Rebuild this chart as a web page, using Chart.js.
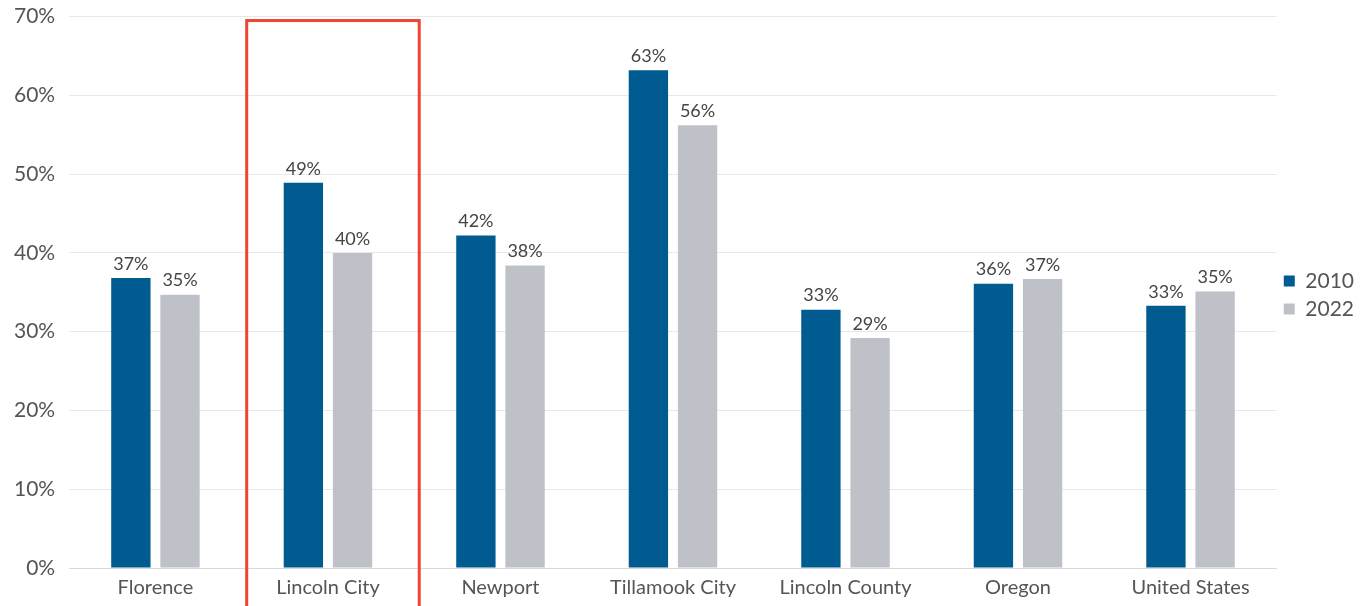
<!DOCTYPE html>
<html>
<head>
<meta charset="utf-8">
<script src="https://cdn.jsdelivr.net/npm/chart.js@4"></script>
<style>
html,body{margin:0;padding:0;background:#fff;overflow:hidden;}
#wrap{width:1360px;height:606px;position:relative;overflow:hidden;}
#c{position:absolute;left:0;top:-10px;}
</style>
</head>
<body>
<div id="wrap"><canvas id="c" width="1364" height="616"></canvas></div>
<script>
const categories = ["Florence", "Lincoln City", "Newport", "Tillamook City", "Lincoln County", "Oregon", "United States"];
const values2010 = [36.8, 48.9, 42.2, 63.2, 32.8, 36.1, 33.3];
const values2022 = [34.7, 40.0, 38.4, 56.2, 29.2, 36.7, 35.1];
const seriesNames = ["2010", "2022"];
const yTicks = [0, 10, 20, 30, 40, 50, 60, 70];
const highlightCategory = "Lincoln City";

const FONT = 'Lato, "Open Sans", sans-serif';

const labelPlugin = {
  id: 'barLabels',
  afterDatasetsDraw(chart) {
    const ctx = chart.ctx;
    ctx.save();
    ctx.font = '18px ' + FONT;
    ctx.fillStyle = '#444';
    ctx.textAlign = 'center';
    ctx.textBaseline = 'bottom';
    chart.data.datasets.forEach((ds, i) => {
      const meta = chart.getDatasetMeta(i);
      meta.data.forEach((bar, j) => {
        ctx.fillText(Math.round(ds.data[j]) + '%', bar.x, bar.y - 5);
      });
    });
    ctx.restore();
  }
};

const highlightPlugin = {
  id: 'highlight',
  afterDraw(chart) {
    const xs = chart.scales.x, ys = chart.scales.y;
    const idx = categories.indexOf(highlightCategory);
    const cx = xs.getPixelForValue(idx);
    const w = (xs.right - xs.left) / categories.length;
    const ctx = chart.ctx;
    ctx.save();
    ctx.strokeStyle = '#ee4530';
    ctx.lineWidth = 3;
    const top = ys.getPixelForValue(69.5);
    ctx.strokeRect(cx - w / 2 + 5, top, w, chart.height - top + 3);
    ctx.restore();
  }
};

new Chart(document.getElementById('c'), {
  type: 'bar',
  data: {
    labels: categories,
    datasets: [
      { label: seriesNames[0], data: values2010, backgroundColor: '#005b91', barPercentage: 0.8, categoryPercentage: 0.57 },
      { label: seriesNames[1], data: values2022, backgroundColor: '#bfc1c8', barPercentage: 0.8, categoryPercentage: 0.57 }
    ]
  },
  options: {
    responsive: false,
    animation: false,
    devicePixelRatio: 1,
    layout: { padding: { top: 0, right: 0, left: 0, bottom: 6 } },
    plugins: {
      legend: {
        position: 'right',
        align: 'center',
        labels: {
          boxWidth: 11, boxHeight: 11, padding: 7,
          color: '#555',
          font: { size: 21, family: FONT }
        }
      },
      tooltip: { enabled: false }
    },
    scales: {
      x: {
        grid: { display: false },
        border: { color: '#d9d9d9' },
        ticks: { color: '#555', font: { size: 20, family: FONT }, padding: 0 }
      },
      y: {
        min: 0, max: 70,
        afterBuildTicks(axis) { axis.ticks = yTicks.map(v => ({ value: v })); },
        grid: { color: '#e8e8e8', drawTicks: false },
        border: { display: false },
        ticks: {
          color: '#555', padding: 14,
          font: { size: 21, family: FONT },
          callback: v => v + '%'
        }
      }
    }
  },
  plugins: [labelPlugin, highlightPlugin]
});
</script>
</body>
</html>
